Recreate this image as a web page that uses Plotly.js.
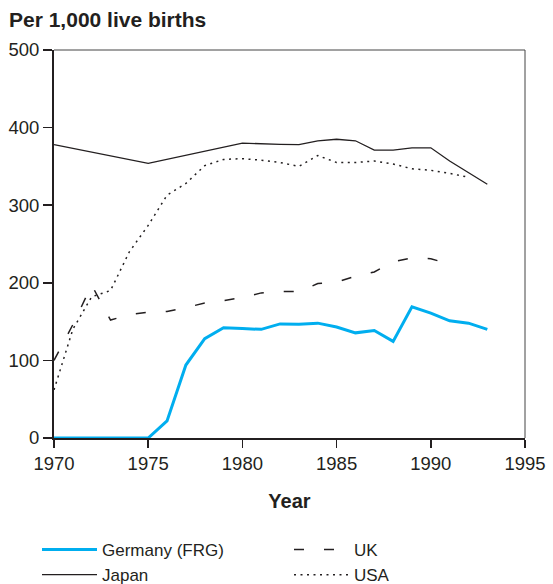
<!DOCTYPE html>
<html>
<head>
<meta charset="utf-8">
<script src="https://cdn.plot.ly/plotly-3.0.1.min.js"></script>
<style>html,body{margin:0;padding:0;background:#fff;}#chart{width:553px;height:584px;}</style>
</head>
<body>
<div id="chart"></div>
<script>
// Data
const germanyYears = [1970,1971,1972,1973,1974,1975,1976,1977,1978,1979,1980,1981,1982,1983,1984,1985,1986,1987,1988,1989,1990,1991,1992,1993];
const germanyValues = [0,0,0,0,0,0,22,94,128,142,141,140,147,146.5,148,143,135.5,138.5,124.5,169,161,151,148,140];

const japanYears = [1970,1975,1980,1981,1982,1983,1984,1985,1986,1987,1988,1989,1990,1991,1992,1993];
const japanValues = [378,354,380,379,378.5,378,383,385,383,371,371,374,374,357,342,327];

const ukYears = [1970,1971,1972,1973,1974,1975,1976,1977,1978,1979,1980,1981,1982,1983,1984,1985,1986,1987,1988,1989,1990,1991];
const ukValues = [100,146,197,152,159,162,163,168,174,177,181,187,189,188.5,199,201,208.5,214,227,232,231,224];

const usaYears = [1970,1971,1972,1973,1974,1975,1976,1977,1978,1979,1980,1981,1982,1983,1984,1985,1986,1987,1988,1989,1990,1991,1992];
const usaValues = [62,140,182,190,240,274,313,328,351,359,360,358,355,350,364,355,355,357,353,347,345,341,336];

const xTicks = [1970,1975,1980,1985,1990,1995];
const yTicks = [0,100,200,300,400,500];

const ink = '#231f20';

const traces = [
  {x: germanyYears, y: germanyValues, name: 'Germany (FRG)', mode: 'lines',
   line: {color: '#00aeef', width: 3}},
  {x: ukYears, y: ukValues, name: 'UK', mode: 'lines',
   line: {color: ink, width: 1.5, dash: '10px,20px'}},
  {x: japanYears, y: japanValues, name: 'Japan', mode: 'lines',
   line: {color: ink, width: 1.3}},
  {x: usaYears, y: usaValues, name: 'USA', mode: 'lines',
   line: {color: ink, width: 1.5, dash: '2px,4.5px'}}
];

const layout = {
  width: 553, height: 584,
  margin: {l: 54, r: 28, t: 50, b: 146, autoexpand: false},
  paper_bgcolor: '#fff', plot_bgcolor: '#fff',
  font: {family: '"Liberation Sans", Arial, sans-serif', size: 18, color: ink},
  title: {text: '<b>Per 1,000 live births</b>', font: {size: 21, color: ink},
          xref: 'container', x: 9/553, xanchor: 'left',
          yref: 'container', y: 1 - 20/584, yanchor: 'middle'},
  xaxis: {range: [1970, 1995], tickvals: xTicks, ticktext: xTicks.map(String),
          showgrid: false, zeroline: false, showline: true, linewidth: 2, linecolor: ink,
          ticks: 'outside', ticklen: 8, tickwidth: 1.5, tickcolor: ink,
          tickfont: {size: 18.5, color: ink},
          title: {text: '<b>Year</b>', font: {size: 20, color: ink}, standoff: 21}},
  yaxis: {range: [0, 500], tickvals: yTicks, ticktext: yTicks.map(String),
          showgrid: false, zeroline: false, showline: true, linewidth: 2, linecolor: ink,
          ticks: 'outside', ticklen: 9, tickwidth: 1.5, tickcolor: ink,
          tickfont: {size: 18.5, color: ink}},
  shapes: [
    {type: 'line', xref: 'paper', yref: 'paper', x0: 0, x1: 1, y0: 1, y1: 1, line: {color: '#444', width: 1}},
    {type: 'line', xref: 'paper', yref: 'paper', x0: 1, x1: 1, y0: 0, y1: 1, line: {color: '#444', width: 1}}
  ],
  showlegend: true,
  legend: {orientation: 'h', xref: 'paper', yref: 'paper',
           x: -17/471, xanchor: 'left', y: -94/388, yanchor: 'top',
           entrywidth: 182, entrywidthmode: 'pixels', itemwidth: 55,
           tracegroupgap: 0,
           font: {size: 17, color: ink}, traceorder: 'normal'}
};

Plotly.newPlot('chart', traces, layout, {displayModeBar: false, staticPlot: true});
</script>
</body>
</html>
